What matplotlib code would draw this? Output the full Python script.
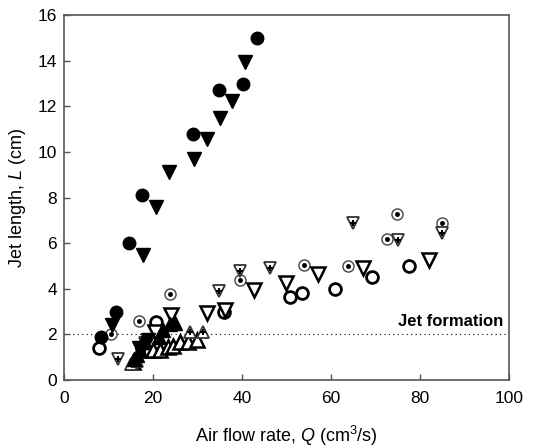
import matplotlib
matplotlib.use('Agg')
import matplotlib.pyplot as plt

plt.rcParams['font.family'] = ['Liberation Sans', 'DejaVu Sans']
plt.rcParams['mathtext.fontset'] = 'custom'
plt.rcParams['mathtext.rm'] = 'Liberation Sans'
plt.rcParams['mathtext.it'] = 'Liberation Sans:italic'

# data
filled_circle_x = [8.3, 11.7, 14.6, 17.5, 29.0, 34.8, 40.3, 43.3]
filled_circle_y = [1.9, 3.0, 6.0, 8.1, 10.8, 12.7, 13.0, 15.0]

filled_down_x = [10.8, 16.8, 18.9, 17.8, 20.7, 23.6, 29.2, 32.1, 35.1, 37.8, 40.7]
filled_down_y = [2.4, 1.4, 1.75, 5.5, 7.6, 9.1, 9.7, 10.55, 11.5, 12.25, 13.95]

filled_up_x = [15.8, 16.4, 17.0, 17.6, 21.3, 22.2, 23.8, 25.0]
filled_up_y = [0.9, 1.1, 1.3, 1.65, 1.9, 2.2, 2.45, 2.5]

open_up_x = [15.5, 18.9, 20.0, 21.6, 23.4, 24.5, 26.0, 27.9, 29.9]
open_up_y = [0.8, 1.3, 1.3, 1.3, 1.45, 1.5, 1.65, 1.65, 1.75]

open_up_plus_x = [15.1, 16.4, 28.3, 31.2]
open_up_plus_y = [0.7, 0.85, 2.1, 2.1]

open_circle_x = [7.9, 20.7, 36.0, 50.8, 53.5, 60.8, 69.2, 77.5]
open_circle_y = [1.4, 2.55, 3.0, 3.65, 3.8, 4.0, 4.5, 5.0]

dot_circle_x = [10.6, 16.9, 23.8, 39.6, 53.9, 63.8, 72.6, 74.8, 84.9]
dot_circle_y = [2.0, 2.6, 3.75, 4.4, 5.05, 5.0, 6.2, 7.3, 6.9]

open_down_x = [20.5, 24.0, 32.1, 36.2, 42.7, 49.9, 57.1, 67.2, 82.0]
open_down_y = [2.1, 2.85, 2.95, 3.07, 3.95, 4.25, 4.65, 4.9, 5.26]

open_down_plus_x = [12.1, 18.2, 34.8, 39.6, 46.3, 65.0, 75.0, 85.0]
open_down_plus_y = [0.9, 1.6, 3.9, 4.8, 4.9, 6.9, 6.15, 6.45]

jet_formation = 2

fig = plt.figure(figsize=(5.39, 4.47), dpi=100)
ax = fig.add_axes([0.119, 0.150, 0.825, 0.816])

ax.axhline(jet_formation, color='black', lw=0.8, ls=(0, (1, 3)), zorder=1)
ax.text(98.8, jet_formation + 0.22, 'Jet formation', ha='right', va='bottom',
        fontsize=12, fontweight='bold')

# open markers
ax.plot(open_circle_x, open_circle_y, 'o', ms=8.5, mfc='white', mec='black', mew=2)
ax.plot(dot_circle_x, dot_circle_y, 'o', ms=8, mfc='white', mec='#444444', mew=1)
ax.plot(dot_circle_x, dot_circle_y, 'o', ms=2.5, mfc='black', mec='black')
ax.plot(open_down_x, open_down_y, 'v', ms=9.5, mfc='white', mec='black', mew=1.8)
ax.plot(open_down_plus_x, open_down_plus_y, 'v', ms=9, mfc='white', mec='#333333', mew=1.3)
ax.plot(open_down_plus_x, open_down_plus_y, '+', ms=5, mec='black', mew=1.5)
ax.plot(open_up_x, open_up_y, '^', ms=9.5, mfc='white', mec='black', mew=1.8)
ax.plot(open_up_plus_x, open_up_plus_y, '^', ms=9, mfc='white', mec='#333333', mew=1.3)
ax.plot(open_up_plus_x, open_up_plus_y, '+', ms=5, mec='black', mew=1.5)

# filled markers
ax.plot(filled_circle_x, filled_circle_y, 'o', ms=9, color='black')
ax.plot(filled_down_x, filled_down_y, 'v', ms=10, color='black')
ax.plot(filled_up_x, filled_up_y, '^', ms=10, color='black')

ax.set_xlim(0, 100)
ax.set_ylim(0, 16)
ax.set_xticks([0, 20, 40, 60, 80, 100])
ax.set_yticks(range(0, 17, 2))
ax.tick_params(direction='in', length=4, width=1, color='#555555',
               labelsize=12.5)
ax.tick_params(axis='x', pad=8)
ax.tick_params(axis='y', pad=5)
for s in ax.spines.values():
    s.set_color('#555555')
    s.set_linewidth(1.2)

ax.set_xlabel(r'Air flow rate, $\it{Q}$ (cm$^3$/s)', fontsize=13, labelpad=13)
ax.set_ylabel(r'Jet length, $\it{L}$ (cm)', fontsize=13, labelpad=7)

fig.savefig('out.png', dpi=100)
